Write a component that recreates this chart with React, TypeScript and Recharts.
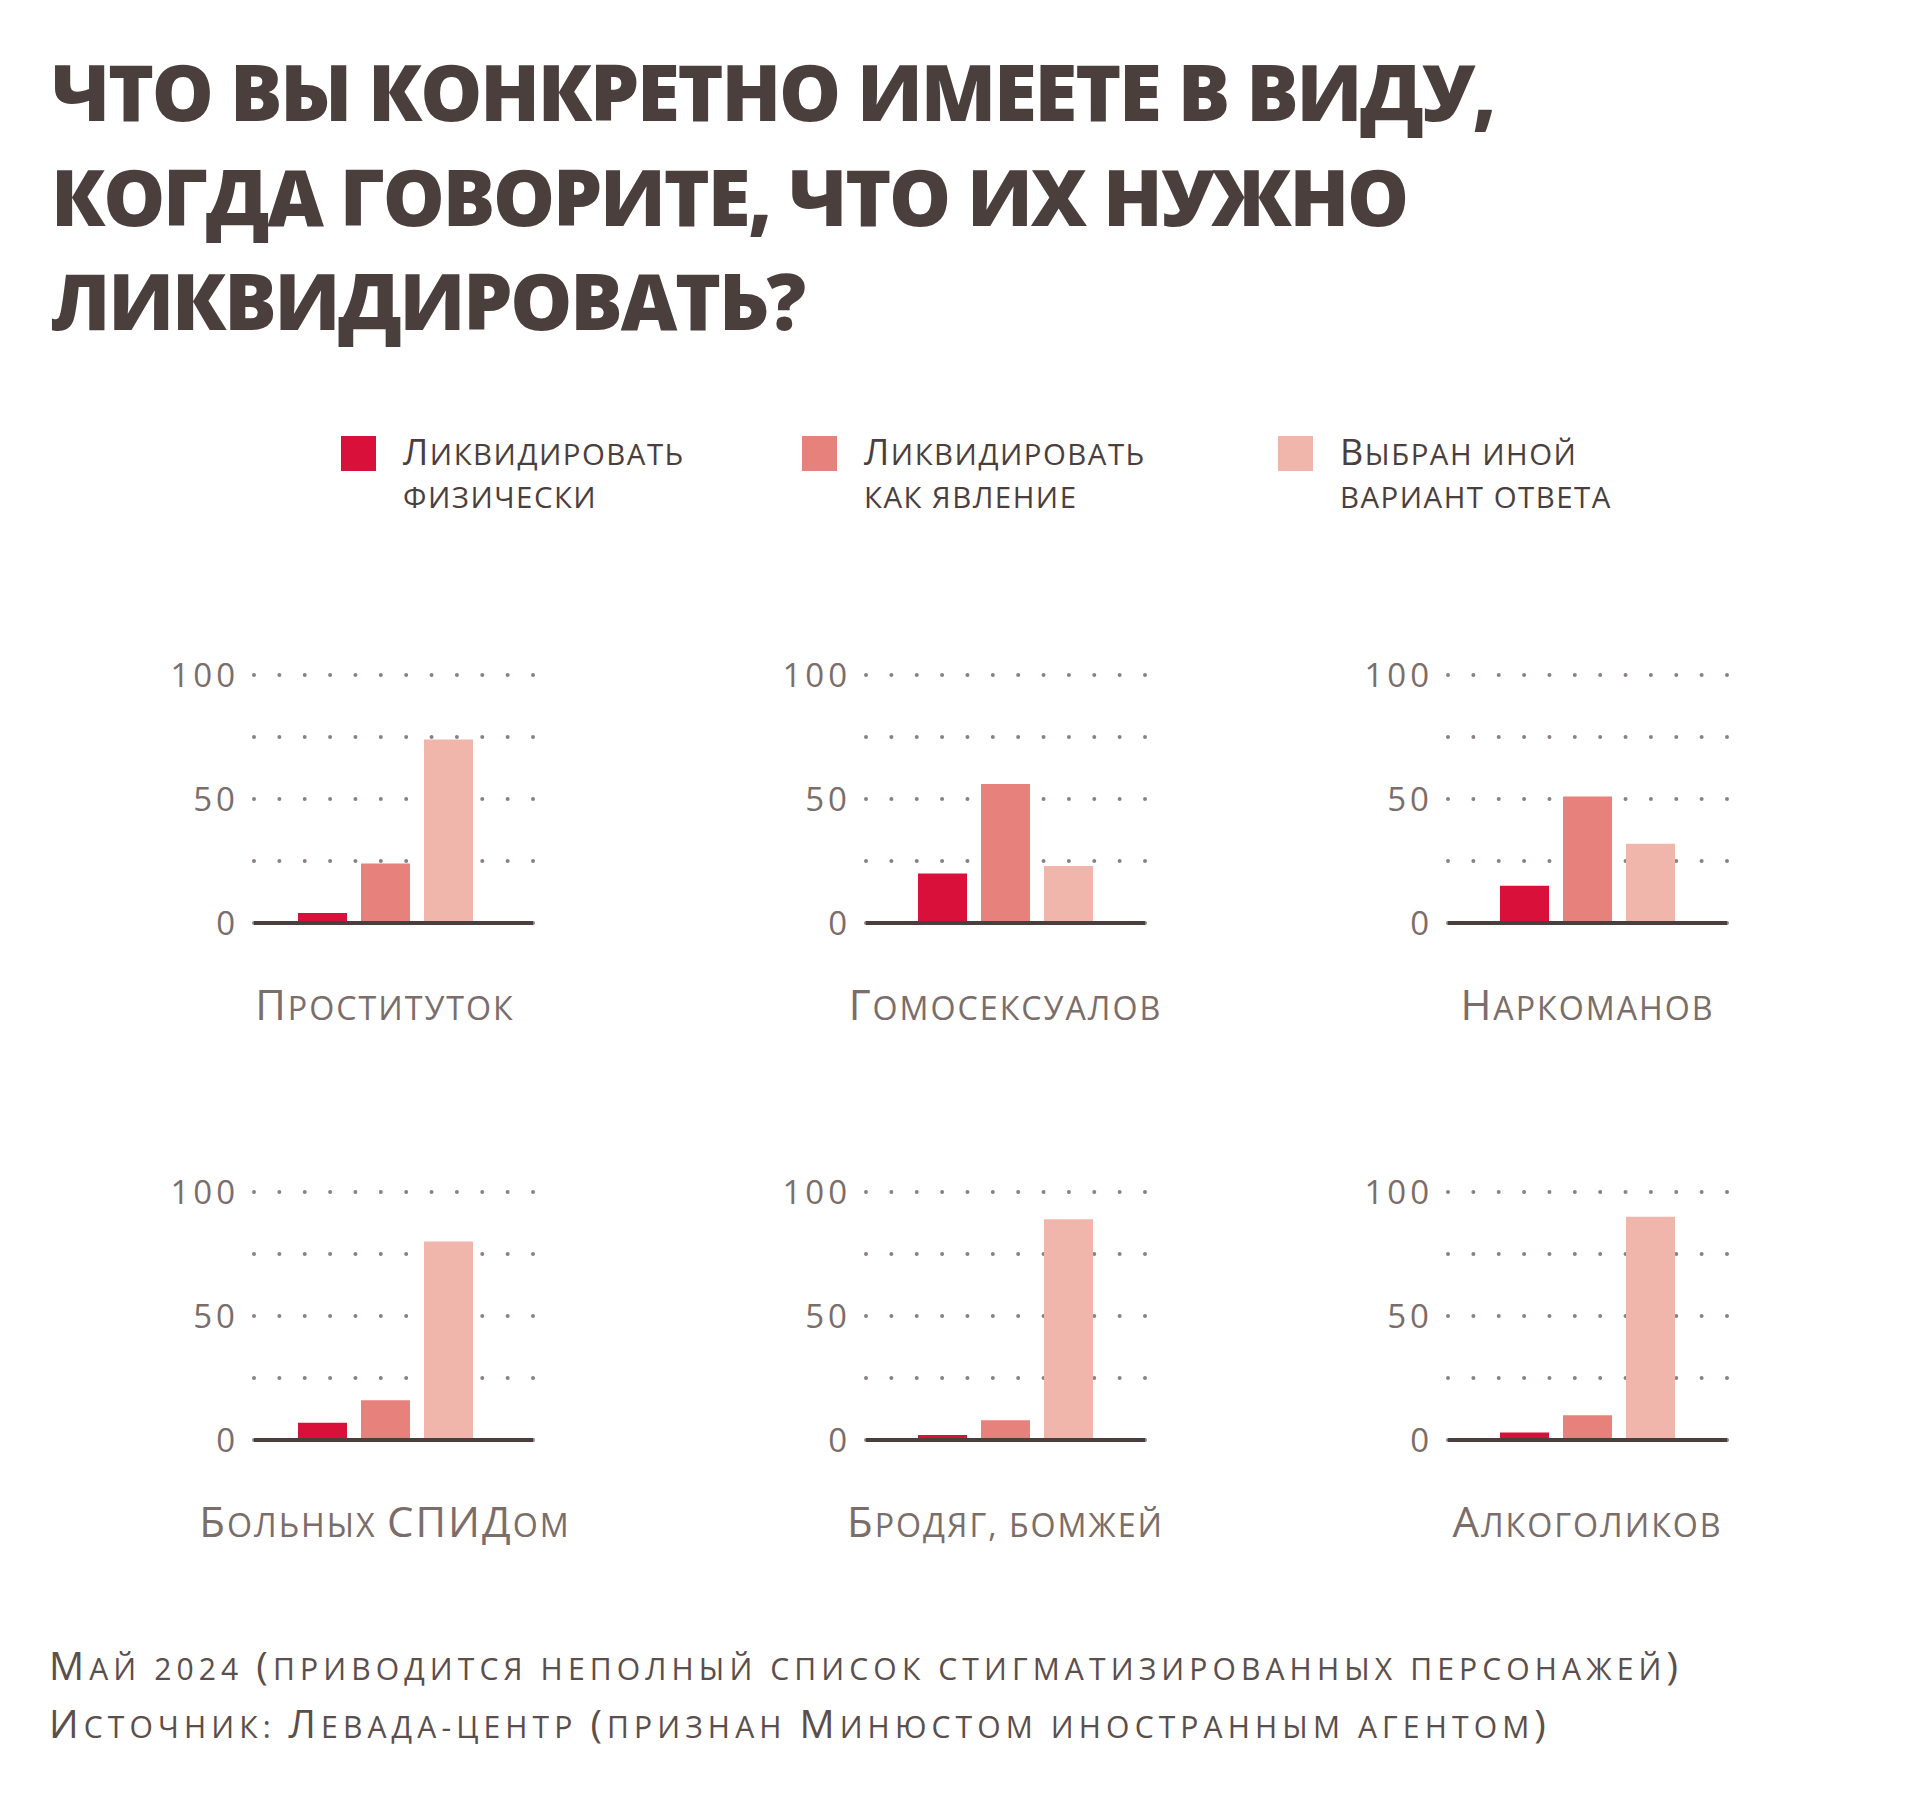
import { BarChart, Bar, XAxis, YAxis, CartesianGrid } from 'recharts';

// data (percent)
const categories = ['Проституток', 'Гомосексуалов', 'Наркоманов', 'Больных СПИДом', 'Бродяг, бомжей', 'Алкоголиков'];
const physically = [4, 20, 15, 7, 2, 3];
const asPhenomenon = [24, 56, 51, 16, 8, 10];
const otherAnswer = [74, 23, 32, 80, 89, 90];
const yTicks = [0, 25, 50, 75, 100];
const yLabelTicks = [0, 50, 100];

const titleLines = ['ЧТО ВЫ КОНКРЕТНО ИМЕЕТЕ В ВИДУ,', 'КОГДА ГОВОРИТЕ, ЧТО ИХ НУЖНО', 'ЛИКВИДИРОВАТЬ?'];
const legendLines = [
  ['Ликвидировать', 'физически'],
  ['Ликвидировать', 'как явление'],
  ['Выбран иной', 'вариант ответа'],
];
const footerLines = [
  'Май 2024 (приводится неполный список стигматизированных персонажей)',
  'Источник: Левада-центр (признан Минюстом иностранным агентом)',
];

const COLORS = ['#d9103a', '#e6827b', '#f0b5ab'];
const DARK = '#4b3f3e';
const MUTED = '#7a6d6a';
const FONT = '"Open Sans", sans-serif';

const PLOT_W = 279;
const PLOT_H = 248;
const Y_W = 110;
const M_TOP = 40;
const M_RIGHT = 90;
const X_H = 130;
const colLeft = [254, 866, 1448];
const rowTop = [675, 1192];
// first column's bar group sits a bit left of centre in the original
const colPadRight = [17, 0, 0];

// split text into capital / lowercase runs to fake a small-caps face
function scRuns(text: string) {
  const runs: { t: string; k: string }[] = [];
  for (const ch of text) {
    const k = ch !== ch.toLowerCase() || ch === '(' || ch === ')' ? 'U' : 'L';
    const last = runs[runs.length - 1];
    if (last && last.k === k) last.t += ch;
    else runs.push({ t: ch, k });
  }
  return runs;
}

function smallCaps(text: string, cap: number, small: number) {
  return scRuns(text).map((r, i) => (
    <tspan
      key={i}
      fontSize={r.k === 'U' ? cap : small * 0.7}
      style={r.k === 'L' ? { textTransform: 'uppercase' } : undefined}
    >
      {r.t}
    </tspan>
  ));
}

const DotLine = (p: any) => (
  <line
    x1={p.x1}
    y1={p.y1}
    x2={p.x2 + 1}
    y2={p.y2}
    stroke="#8a8282"
    strokeWidth={4}
    strokeLinecap="round"
    strokeDasharray={`0 ${PLOT_W / 11}`}
  />
);

const CatTick = (p: any) => (
  <text
    x={p.x}
    y={p.y + 95}
    textAnchor="middle"
    fill={MUTED}
    fontFamily={FONT}
    style={{ letterSpacing: 2 }}
  >
    {smallCaps(p.payload.value, 42, 46)}
  </text>
);

function Panel({ index }: { index: number }) {
  const data = [
    {
      name: categories[index],
      phys: physically[index],
      phen: asPhenomenon[index],
      other: otherAnswer[index],
    },
  ];
  const col = index % 3;
  const left = colLeft[col] - Y_W;
  const top = rowTop[Math.floor(index / 3)] - M_TOP;
  return (
    <div style={{ position: 'absolute', left, top }}>
      <BarChart
        width={Y_W + PLOT_W + M_RIGHT}
        height={M_TOP + PLOT_H + X_H}
        data={data}
        margin={{ top: M_TOP, right: M_RIGHT, left: 0, bottom: 0 }}
        barSize={49}
        barGap={14}
      >
        <CartesianGrid vertical={false} horizontal={DotLine} />
        <XAxis
          dataKey="name"
          height={X_H}
          axisLine={{ stroke: DARK, strokeWidth: 4 }}
          tickLine={false}
          tickSize={0}
          interval={0}
          padding={{ left: 0, right: colPadRight[col] }}
          tick={<CatTick />}
        />
        <YAxis
          domain={[0, 100]}
          ticks={yTicks}
          width={Y_W}
          axisLine={false}
          tickLine={false}
          tickSize={0}
          tickMargin={15}
          tickFormatter={(v: number) => (yLabelTicks.includes(v) ? String(v) : '')}
          tick={{ fill: MUTED, fontSize: 33, fontFamily: FONT, style: { letterSpacing: 4 } }}
        />
        <Bar dataKey="phys" fill={COLORS[0]} isAnimationActive={false} />
        <Bar dataKey="phen" fill={COLORS[1]} isAnimationActive={false} />
        <Bar dataKey="other" fill={COLORS[2]} isAnimationActive={false} />
      </BarChart>
    </div>
  );
}

export default function App() {
  const legendX = [341, 802, 1278];
  return (
    <div style={{ position: 'absolute', left: 0, top: 0, width: 1915, height: 1796, background: '#fff' }}>
      <svg width={1915} height={1796} style={{ position: 'absolute', left: 0, top: 0 }}>
        {titleLines.map((t, i) => (
          <text
            key={i}
            x={51}
            y={121 + i * 104.5}
            fill={DARK}
            fontSize={78}
            fontWeight={800}
            fontFamily={FONT}
            style={{ letterSpacing: -2.2 }}
          >
            {t}
          </text>
        ))}
        {legendLines.map((lines, i) => (
          <g key={i}>
            <rect x={legendX[i]} y={436} width={35} height={35} fill={COLORS[i]} />
            {lines.map((l, j) => (
              <text
                key={j}
                x={legendX[i] + 62}
                y={465 + j * 43}
                fill={DARK}
                fontFamily={FONT}
                style={{ letterSpacing: 1.5 }}
              >
                {smallCaps(l, 36, 42)}
              </text>
            ))}
          </g>
        ))}
        {footerLines.map((t, i) => (
          <text
            key={i}
            x={49}
            y={1680 + i * 58}
            fill="#5b4f4d"
            fontFamily={FONT}
            style={{ letterSpacing: 5.1 }}
          >
            {smallCaps(t, 39, 43)}
          </text>
        ))}
      </svg>
      {categories.map((_, i) => (
        <Panel key={i} index={i} />
      ))}
    </div>
  );
}
